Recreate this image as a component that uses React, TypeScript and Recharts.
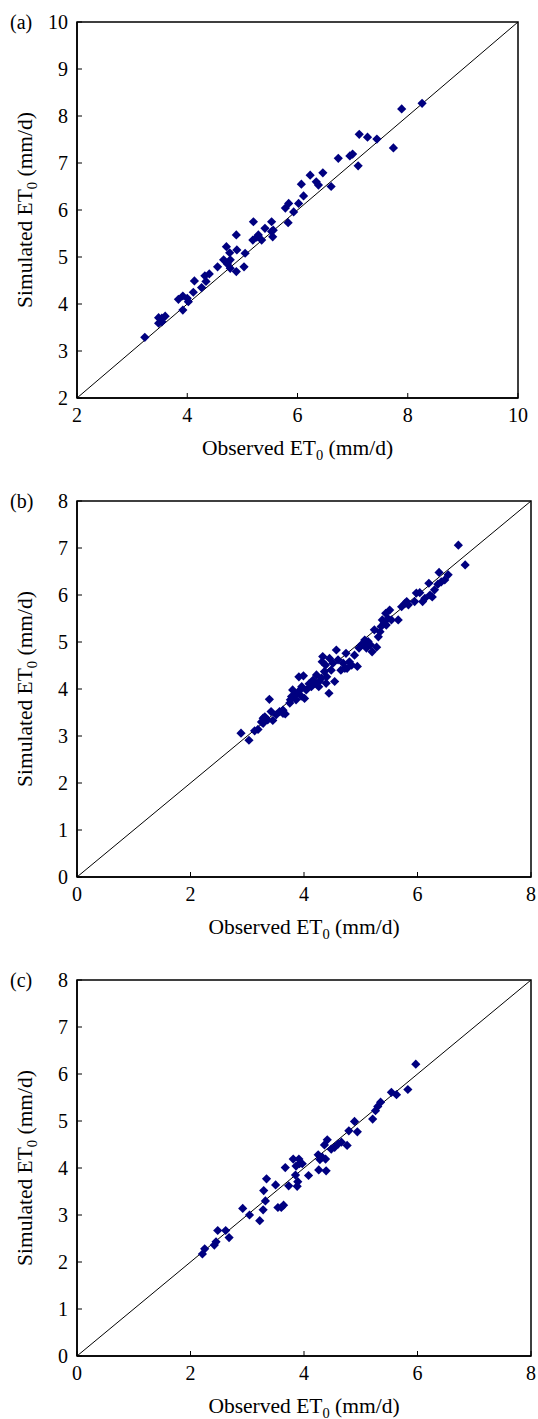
import React from "react";
import {
  ScatterChart,
  Scatter,
  XAxis,
  YAxis,
  ReferenceLine,
  ReferenceArea,
  Label,
} from "recharts";

// panel (a)
const obsA = [
  3.23, 3.48, 3.54, 3.6, 3.48, 3.54, 3.92, 3.84, 3.92, 4.02, 4.0, 4.11, 4.13, 4.26, 4.34,
  4.32, 4.4, 4.55, 4.66, 4.71, 4.73, 4.77, 4.78, 4.89, 4.9, 4.89, 5.03, 5.05, 5.2, 5.19,
  5.29, 5.35, 5.41, 5.53, 5.55, 5.53, 5.78, 5.84, 5.83, 5.93, 6.02, 6.11, 6.07, 6.23, 6.34,
  6.38, 6.46, 6.61, 6.74, 6.95, 7.0, 7.1, 7.12, 7.27, 7.44, 7.74, 7.89, 8.26, 4.78, 5.26,
  5.56,
];
const simA = [
  3.29, 3.59, 3.7, 3.74, 3.71, 3.62, 3.87, 4.1, 4.17, 4.05, 4.12, 4.25, 4.49, 4.35, 4.48,
  4.6, 4.64, 4.79, 4.94, 5.22, 4.85, 5.09, 4.76, 4.69, 5.15, 5.47, 4.79, 5.08, 5.75, 5.36,
  5.47, 5.36, 5.61, 5.75, 5.43, 5.54, 6.04, 6.14, 5.73, 5.96, 6.14, 6.3, 6.55, 6.74, 6.6,
  6.53, 6.79, 6.5, 7.1, 7.15, 7.19, 6.94, 7.61, 7.55, 7.51, 7.32, 8.15, 8.27, 4.94, 5.42,
  5.57,
];

// panel (b)
const obsB = [
  2.89, 3.03, 3.13, 3.19, 3.25, 3.28, 3.31, 3.36, 3.39, 3.42, 3.45, 3.51, 3.57, 3.63, 3.67,
  3.75, 3.78, 3.8, 3.84, 3.86, 3.89, 3.91, 3.95, 3.96, 3.99, 4.01, 4.04, 4.09, 4.13, 4.19,
  4.22, 4.26, 4.27, 4.31, 4.33, 4.36, 4.38, 4.4, 4.44, 4.45, 4.48, 4.51, 4.54, 4.57, 4.6,
  4.65, 4.69, 4.74, 4.76, 4.8, 4.84, 4.89, 4.94, 4.97, 5.01, 5.07, 5.1, 5.13, 5.17, 5.2,
  5.24, 5.28, 5.31, 5.34, 5.36, 5.38, 5.41, 5.44, 5.48, 5.51, 5.54, 5.66, 5.72, 5.78, 5.84,
  5.95, 6.04, 6.09, 6.13, 6.2, 6.22, 6.26, 6.3, 6.36, 6.38, 6.42, 6.48, 6.54, 6.72, 6.84,
  3.28, 3.63, 3.76, 3.94, 4.16, 4.32, 4.39, 4.72, 5.05, 5.45, 5.81, 5.98,
];
const simB = [
  3.06, 2.91, 3.11, 3.14, 3.3, 3.38, 3.41, 3.34, 3.78, 3.52, 3.33, 3.45, 3.52, 3.55, 3.47,
  3.7, 3.84, 3.98, 3.87, 3.77, 3.92, 4.26, 3.85, 4.05, 4.28, 3.8, 3.98, 4.11, 4.05, 4.12,
  4.3, 4.05, 4.16, 4.23, 4.69, 4.37, 4.51, 4.26, 3.91, 4.65, 4.4, 4.55, 4.16, 4.83, 4.62,
  4.4, 4.55, 4.76, 4.44, 4.58, 4.51, 4.72, 4.48, 4.87, 4.94, 5.04, 4.87, 5.01, 4.94, 4.79,
  5.26, 4.89, 5.11, 5.22, 5.33, 5.47, 5.4, 5.61, 5.5, 5.68, 5.47, 5.47, 5.75, 5.82, 5.79,
  5.86, 6.05, 5.86, 5.93, 6.25, 6.0, 5.96, 6.11, 6.23, 6.48, 6.28, 6.32, 6.43, 7.06, 6.64,
  3.27, 3.48, 3.77, 3.99, 4.19, 4.58, 4.12, 4.44, 4.96, 5.36, 5.86, 6.04,
];

// panel (c)
const obsC = [
  2.21, 2.25, 2.42, 2.45, 2.48, 2.62, 2.68, 2.92, 3.04, 3.22, 3.28, 3.32, 3.29, 3.34, 3.5,
  3.54, 3.6, 3.64, 3.67, 3.73, 3.81, 3.85, 3.88, 3.89, 3.91, 3.92, 3.86, 3.97, 4.08, 4.25,
  4.26, 4.28, 4.32, 4.36, 4.39, 4.38, 4.41, 4.48, 4.54, 4.6, 4.66, 4.76, 4.79, 4.89, 4.94,
  5.21, 5.26, 5.3, 5.35, 5.54, 5.63, 5.83, 5.97,
];
const simC = [
  2.17, 2.28, 2.36, 2.43, 2.67, 2.67, 2.52, 3.14, 3.0, 2.88, 3.11, 3.3, 3.52, 3.77, 3.64,
  3.16, 3.16, 3.21, 4.01, 3.62, 4.19, 3.85, 3.61, 3.71, 4.19, 4.09, 4.04, 4.09, 3.84, 4.28,
  3.96, 4.18, 4.23, 4.49, 3.94, 4.19, 4.6, 4.4, 4.44, 4.51, 4.55, 4.48, 4.79, 4.99, 4.77,
  5.04, 5.22, 5.31, 5.4, 5.61, 5.56, 5.67, 6.21,
];

const xTicksA = [2, 4, 6, 8, 10];
const yTicksA = [2, 3, 4, 5, 6, 7, 8, 9, 10];
const xTicksBC = [0, 2, 4, 6, 8];
const yTicksBC = [0, 1, 2, 3, 4, 5, 6, 7, 8];

const FONT = "'Liberation Serif', 'Times New Roman', serif";
const NAVY = "#000080";
const PANEL_H = 479;

function Diamond(props: any) {
  const { cx, cy } = props;
  const r = 4.6;
  return (
    <polygon
      points={`${cx},${cy - r} ${cx + r},${cy} ${cx},${cy + r} ${cx - r},${cy}`}
      fill={NAVY}
    />
  );
}

function XTitle({ viewBox }: any) {
  const { x, y, width } = viewBox;
  return (
    <text
      x={x + width / 2}
      y={y + 57}
      textAnchor="middle"
      fontFamily={FONT}
      fontSize={21.5}
      fill="#000"
    >
      Observed ET
      <tspan fontSize={14.5} dy={5}>0</tspan>
      <tspan dy={-5}> (mm/d)</tspan>
    </text>
  );
}

function YTitle({ viewBox }: any) {
  const { x, y, height } = viewBox;
  const tx = x + 5;
  const ty = y + height / 2;
  return (
    <text
      x={tx}
      y={ty}
      transform={`rotate(-90, ${tx}, ${ty})`}
      textAnchor="middle"
      fontFamily={FONT}
      fontSize={21.5}
      fill="#000"
    >
      Simulated ET
      <tspan fontSize={14.5} dy={5}>0</tspan>
      <tspan dy={-5}> (mm/d)</tspan>
    </text>
  );
}

interface PanelProps {
  tag: string;
  obs: number[];
  sim: number[];
  min: number;
  max: number;
  xTicks: number[];
  yTicks: number[];
  right: number;
}

function Panel({ tag, obs, sim, min, max, xTicks, yTicks, right }: PanelProps) {
  const data = obs.map((o, i) => ({ x: o, y: sim[i] }));
  const tickStyle = { fill: "#000", fontSize: 20, fontFamily: FONT };
  return (
    <div style={{ position: "relative", width: 538, height: PANEL_H }}>
      <div
        style={{
          position: "absolute",
          left: 10,
          top: 12,
          fontFamily: FONT,
          fontSize: 20,
          lineHeight: "20px",
          color: "#000",
        }}
      >
        {tag}
      </div>
      <ScatterChart
        width={538}
        height={PANEL_H}
        margin={{ top: 22, right, bottom: 21, left: 27 }}
      >
        <XAxis
          type="number"
          dataKey="x"
          domain={[min, max]}
          ticks={xTicks}
          height={60}
          tick={tickStyle}
          tickSize={-5}
          tickMargin={15}
          axisLine={{ stroke: "#000", strokeWidth: 1.5 }}
          tickLine={{ stroke: "#000" }}
        >
          <Label content={<XTitle />} />
        </XAxis>
        <YAxis
          type="number"
          dataKey="y"
          domain={[min, max]}
          ticks={yTicks}
          width={50}
          tick={tickStyle}
          tickSize={-5}
          tickMargin={14}
          axisLine={{ stroke: "#000", strokeWidth: 1.5 }}
          tickLine={{ stroke: "#000" }}
        >
          <Label content={<YTitle />} />
        </YAxis>
        <ReferenceArea
          x1={min}
          x2={max}
          y1={min}
          y2={max}
          fill="none"
          fillOpacity={0}
          stroke="#000"
          strokeWidth={1.5}
        />
        <ReferenceLine
          segment={[
            { x: min, y: min },
            { x: max, y: max },
          ]}
          stroke="#000"
          strokeWidth={1}
        />
        <Scatter data={data} shape={<Diamond />} isAnimationActive={false} />
      </ScatterChart>
    </div>
  );
}

export default function App() {
  return (
    <div style={{ width: 538, height: 1419, background: "#fff" }}>
      <style>{`body{margin:0;background:#fff}`}</style>
      <Panel
        tag="(a)"
        obs={obsA}
        sim={simA}
        min={2}
        max={10}
        xTicks={xTicksA}
        yTicks={yTicksA}
        right={20}
      />
      <Panel
        tag="(b)"
        obs={obsB}
        sim={simB}
        min={0}
        max={8}
        xTicks={xTicksBC}
        yTicks={yTicksBC}
        right={7}
      />
      <Panel
        tag="(c)"
        obs={obsC}
        sim={simC}
        min={0}
        max={8}
        xTicks={xTicksBC}
        yTicks={yTicksBC}
        right={7}
      />
    </div>
  );
}
